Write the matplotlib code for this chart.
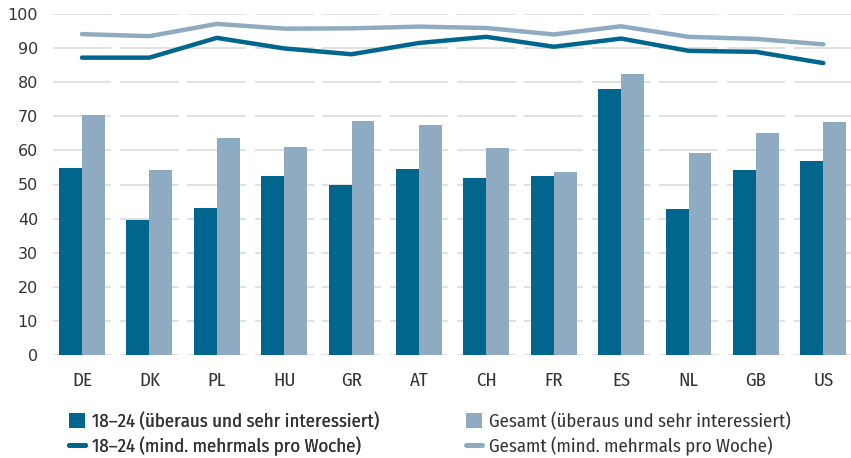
import matplotlib
matplotlib.use("Agg")
import matplotlib.pyplot as plt
from matplotlib.patches import Patch
from matplotlib.lines import Line2D
import numpy as np

countries = ["DE", "DK", "PL", "HU", "GR", "AT", "CH", "FR", "ES", "NL", "GB", "US"]
interest_1824 = [54.8, 39.6, 43.1, 52.5, 49.9, 54.5, 51.9, 52.5, 78.0, 42.8, 54.3, 56.9]
interest_total = [70.4, 54.3, 63.6, 61.0, 68.6, 67.4, 60.7, 53.7, 82.4, 59.2, 65.1, 68.3]
weekly_1824 = [87.2, 87.2, 93.0, 89.9, 88.2, 91.5, 93.3, 90.4, 92.8, 89.2, 88.9, 85.6]
weekly_total = [94.1, 93.5, 97.1, 95.7, 95.8, 96.3, 95.9, 94.0, 96.4, 93.3, 92.7, 91.1]
y_ticks = [0, 10, 20, 30, 40, 50, 60, 70, 80, 90, 100]

labels_1824 = ["18\u201324 (überaus und sehr interessiert)", "18\u201324 (mind. mehrmals pro Woche)"]
labels_total = ["Gesamt (überaus und sehr interessiert)", "Gesamt (mind. mehrmals pro Woche)"]

DARK = "#00668e"
LIGHT = "#8eabc1"
GRID = "#dedede"
TEXT = "#333333"
NARROW = ["Fira Sans Condensed", "DejaVu Sans"]
LABEL_SIZE = 13.5

W, H = 851, 458
fig = plt.figure(figsize=(W / 100, H / 100), dpi=100)
ax = fig.add_axes([52 / W, 103 / H, 799 / W, 341 / H])

x = np.arange(len(countries))
bw = 0.34

# segmented horizontal grid lines, one piece per category
for yv in y_ticks:
    ax.hlines([yv] * len(x), x - 0.435, x + 0.435, color=GRID, lw=1.3, zorder=0)

ax.bar(x - bw / 2, interest_1824, width=bw, color=DARK, zorder=2)
ax.bar(x + bw / 2, interest_total, width=bw, color=LIGHT, zorder=2)
ax.plot(x, weekly_total, color=LIGHT, lw=3.2, solid_capstyle="round", solid_joinstyle="round", zorder=3)
ax.plot(x, weekly_1824, color=DARK, lw=3.2, solid_capstyle="round", solid_joinstyle="round", zorder=4)

ax.set_xlim(-0.445, 11.41)
ax.set_ylim(0, 100)
ax.set_yticks(y_ticks)
ax.set_yticklabels([str(v) for v in y_ticks], fontsize=11.5, color=TEXT)
ax.set_xticks(x)
ax.set_xticklabels(countries, color=TEXT, family=NARROW, fontsize=LABEL_SIZE)
ax.tick_params(axis="both", length=0)
ax.tick_params(axis="x", pad=12)
ax.tick_params(axis="y", pad=10)
for s in ax.spines.values():
    s.set_visible(False)


def legend_column(color, labels, left_px):
    handles = [
        Patch(facecolor=color, edgecolor="none"),
        Line2D([0], [0], color=color, lw=3.6, solid_capstyle="round"),
    ]
    leg = fig.legend(
        handles, labels, loc="center left", bbox_to_anchor=(left_px / W, 1 - 434 / H),
        frameon=False, prop={"family": NARROW, "size": LABEL_SIZE}, handlelength=0.85,
        handleheight=0.8, handletextpad=0.4, labelspacing=0.3,
        borderaxespad=0, borderpad=0,
    )
    for t in leg.get_texts():
        t.set_color(TEXT)
    return leg


fig.add_artist(legend_column(DARK, labels_1824, 69))
legend_column(LIGHT, labels_total, 466)

fig.savefig("out.png", dpi=100)
